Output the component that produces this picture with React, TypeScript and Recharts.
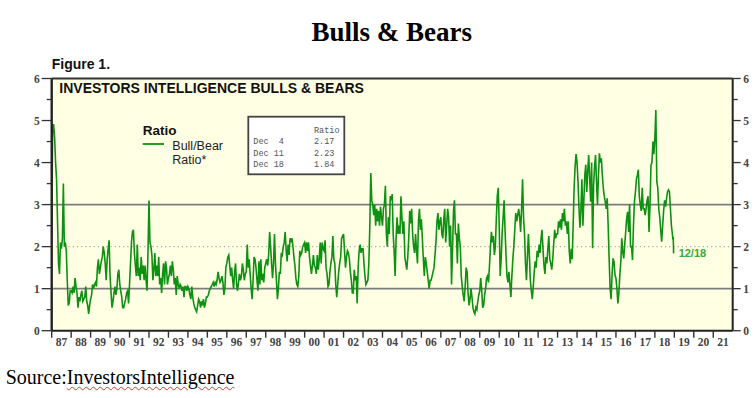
import React from 'react';
import { LineChart, Line, XAxis, YAxis, CartesianGrid, ReferenceLine, Legend } from 'recharts';

// ---- Data (Bull/Bear ratio, ~20 readings per year) ----
const ratio1987 = [2.3, 4.9, 4.9, 4.6, 4.0, 3.6, 2.6, 1.6, 1.35, 2.1, 1.95, 2.2, 3.5, 2.0, 2.1, 1.9, 1.2, 0.6, 0.65, 0.95];
const ratio1988 = [0.95, 0.9, 1.05, 0.9, 1.25, 1.05, 0.9, 0.55, 0.8, 0.7, 0.85, 0.95, 0.7, 0.75, 0.8, 1.05, 0.7, 0.6, 0.4, 0.6];
const ratio1989 = [0.75, 0.85, 1.1, 1.0, 1.1, 1.15, 1.05, 1.5, 1.7, 1.35, 1.5, 1.65, 1.75, 2.0, 1.85, 1.6, 1.2, 1.7, 1.95, 2.15];
const ratio1990 = [1.3, 0.9, 0.55, 0.7, 0.9, 1.05, 0.85, 1.0, 1.35, 1.45, 1.1, 0.95, 0.8, 0.55, 0.55, 0.65, 0.75, 0.9, 0.95, 0.65];
const ratio1991 = [1.1, 1.6, 2.1, 2.35, 2.4, 1.85, 1.55, 1.3, 2.05, 1.3, 1.5, 1.2, 1.75, 1.35, 1.55, 1.2, 1.55, 1.2, 0.95, 1.9];
const ratio1992 = [3.1, 2.1, 2.0, 1.8, 1.2, 1.45, 1.85, 1.3, 1.55, 1.3, 1.75, 1.1, 1.25, 0.9, 1.35, 1.6, 1.1, 1.65, 1.5, 1.1];
const ratio1993 = [1.25, 1.35, 1.55, 1.3, 1.65, 1.45, 1.1, 1.25, 0.85, 1.3, 1.1, 1.0, 1.1, 1.05, 0.95, 1.05, 0.8, 1.05, 1.05, 0.95];
const ratio1994 = [1.05, 1.0, 0.85, 0.75, 1.05, 0.8, 0.65, 0.55, 0.5, 0.45, 0.6, 0.75, 0.7, 0.55, 0.7, 0.6, 0.75, 0.55, 0.65, 0.8];
const ratio1995 = [0.8, 0.85, 0.95, 1.0, 1.05, 1.1, 1.15, 1.05, 1.15, 1.1, 1.2, 1.4, 1.25, 1.15, 1.2, 1.3, 1.15, 0.85, 1.0, 1.5];
const ratio1996 = [1.6, 1.75, 1.8, 1.55, 1.3, 1.5, 1.2, 1.0, 1.4, 1.6, 1.1, 0.95, 1.15, 1.35, 1.2, 1.3, 1.6, 1.45, 1.2, 1.35];
const ratio1997 = [1.4, 2.05, 1.5, 1.7, 1.35, 1.0, 0.75, 1.2, 1.75, 1.7, 1.5, 1.2, 0.95, 1.65, 1.1, 1.7, 1.2, 1.35, 1.15, 1.5];
const ratio1998 = [1.6, 1.7, 1.55, 1.8, 2.35, 2.0, 1.6, 1.25, 1.6, 2.3, 1.6, 1.2, 0.75, 1.0, 1.4, 1.35, 1.85, 1.8, 2.0, 2.1];
const ratio1999 = [2.35, 1.9, 1.65, 2.05, 1.8, 2.2, 2.1, 2.2, 2.0, 1.75, 1.55, 1.25, 1.1, 1.05, 1.3, 1.9, 1.8, 1.85, 2.0, 2.05];
const ratio2000 = [2.1, 1.85, 2.1, 1.9, 2.1, 1.75, 1.55, 1.35, 1.55, 1.8, 1.55, 1.5, 1.35, 1.8, 1.45, 1.7, 2.1, 1.6, 2.1, 1.95];
const ratio2001 = [1.9, 2.15, 1.5, 1.35, 1.05, 1.1, 1.4, 1.6, 1.75, 2.25, 1.7, 1.6, 1.1, 0.8, 1.1, 1.4, 1.6, 1.75, 2.2, 2.25];
const ratio2002 = [2.3, 1.9, 1.5, 1.75, 1.9, 1.85, 1.7, 1.4, 1.2, 0.9, 0.9, 1.45, 1.2, 1.3, 0.65, 1.5, 1.9, 2.05, 1.85, 1.95];
const ratio2003 = [1.95, 1.6, 1.3, 1.1, 1.15, 1.2, 1.6, 2.5, 3.75, 3.1, 3.0, 2.75, 3.0, 2.5, 2.9, 2.6, 2.85, 2.5, 2.95, 2.7];
const ratio2004 = [2.5, 2.9, 3.0, 3.45, 2.3, 2.0, 2.7, 2.3, 3.2, 3.1, 3.25, 2.3, 1.9, 1.3, 2.2, 2.7, 2.3, 2.5, 2.3, 3.2];
const ratio2005 = [2.7, 2.3, 2.6, 1.75, 1.6, 1.45, 1.75, 2.2, 2.85, 2.55, 2.9, 2.3, 2.0, 1.85, 2.3, 1.9, 1.6, 2.6, 2.9, 2.4];
const ratio2006 = [2.65, 2.2, 1.7, 1.3, 1.75, 1.6, 1.4, 1.2, 1.0, 1.2, 1.2, 1.3, 1.4, 1.5, 1.8, 2.1, 2.6, 2.8, 2.4, 2.6];
const ratio2007 = [2.7, 2.3, 2.2, 2.65, 2.9, 2.1, 2.5, 2.9, 2.7, 2.0, 2.5, 1.1, 1.9, 2.85, 3.1, 2.3, 2.3, 1.6, 2.55, 2.2];
const ratio2008 = [2.0, 1.3, 1.05, 0.85, 0.7, 1.05, 1.5, 1.4, 0.9, 0.6, 0.75, 1.0, 0.8, 0.55, 0.45, 0.4, 0.55, 0.5, 0.7, 0.85];
const ratio2009 = [0.95, 1.25, 0.95, 0.55, 0.6, 0.85, 1.0, 1.25, 1.3, 1.15, 1.55, 2.0, 2.35, 2.1, 2.25, 1.8, 2.0, 2.65, 3.2, 3.4];
const ratio2010 = [2.5, 1.3, 1.7, 2.3, 2.7, 3.1, 2.4, 1.8, 1.3, 1.15, 1.4, 1.1, 0.8, 1.3, 1.7, 2.0, 2.4, 2.8, 2.6, 2.75];
const ratio2011 = [2.9, 2.7, 2.35, 2.9, 3.6, 2.7, 2.3, 1.6, 1.2, 1.75, 2.3, 1.8, 1.2, 0.95, 0.75, 1.05, 1.4, 1.65, 1.5, 1.9];
const ratio2012 = [1.75, 2.05, 1.85, 2.2, 2.4, 1.95, 1.55, 1.35, 1.75, 1.6, 1.95, 2.25, 1.7, 1.6, 1.45, 1.7, 2.05, 2.4, 2.2, 2.3];
const ratio2013 = [2.3, 2.6, 2.45, 2.65, 2.4, 2.8, 2.6, 2.9, 2.5, 2.6, 2.3, 2.6, 1.9, 1.6, 1.95, 1.7, 2.5, 3.4, 3.9, 4.2];
const ratio2014 = [4.0, 3.55, 2.9, 2.45, 2.9, 3.6, 2.5, 3.1, 3.7, 3.95, 3.3, 3.8, 4.18, 3.6, 3.07, 4.0, 1.96, 3.45, 3.9, 4.18];
const ratio2015 = [3.55, 3.0, 3.7, 4.22, 4.0, 4.1, 3.7, 3.39, 3.2, 3.07, 2.9, 3.15, 2.5, 1.7, 1.0, 0.75, 1.33, 1.72, 1.64, 1.33];
const ratio2016 = [1.25, 1.0, 0.65, 0.9, 1.33, 1.64, 2.2, 1.87, 1.72, 2.04, 2.35, 2.67, 2.83, 2.35, 3.0, 2.0, 2.0, 1.68, 2.5, 3.07];
const ratio2017 = [3.3, 3.6, 3.7, 3.83, 3.2, 3.0, 2.85, 3.4, 2.9, 2.9, 2.75, 2.9, 3.1, 3.2, 2.35, 3.0, 3.94, 4.0, 4.5, 4.2];
const ratio2018 = [4.6, 5.25, 3.55, 3.4, 2.9, 2.7, 2.4, 2.12, 2.5, 2.85, 3.1, 2.95, 3.15, 3.3, 3.35, 3.3, 2.9, 2.5, 2.3];

// Latest readings (table box)
const tableLabels = ['Dec  4', 'Dec 11', 'Dec 18'];
const tableDates = [2018.925, 2018.944, 2018.964];
const tableRatios = [2.17, 2.23, 1.84];
const lastLabel = '12/18';

const yearArrays: Array<[number, number[]]> = [
  [1987, ratio1987], [1988, ratio1988], [1989, ratio1989], [1990, ratio1990], [1991, ratio1991],
  [1992, ratio1992], [1993, ratio1993], [1994, ratio1994], [1995, ratio1995], [1996, ratio1996],
  [1997, ratio1997], [1998, ratio1998], [1999, ratio1999], [2000, ratio2000], [2001, ratio2001],
  [2002, ratio2002], [2003, ratio2003], [2004, ratio2004], [2005, ratio2005], [2006, ratio2006],
  [2007, ratio2007], [2008, ratio2008], [2009, ratio2009], [2010, ratio2010], [2011, ratio2011],
  [2012, ratio2012], [2013, ratio2013], [2014, ratio2014], [2015, ratio2015], [2016, ratio2016],
  [2017, ratio2017], [2018, ratio2018],
];

const yearTicks = [1987, 1988, 1989, 1990, 1991, 1992, 1993, 1994, 1995, 1996, 1997, 1998, 1999, 2000, 2001, 2002, 2003, 2004, 2005, 2006, 2007, 2008, 2009, 2010, 2011, 2012, 2013, 2014, 2015, 2016, 2017, 2018, 2019, 2020, 2021];
const yTicks = [0, 0.5, 1, 1.5, 2, 2.5, 3, 3.5, 4, 4.5, 5, 5.5, 6];

const data = [
  ...yearArrays.flatMap(([yr, vals]) => vals.map((v, i) => ({ t: yr + i / 20, ratio: v }))),
  ...tableDates.map((t, i) => ({ t, ratio: tableRatios[i] })),
];
// year boundaries get a tick mark, mid-years get the two-digit label
const xTicks = yearTicks.flatMap((y) => [y, y + 0.5]);

const SERIES = '#0e9012';
const AXIS_DARK = '#222';
const axisFont: React.CSSProperties = { fontFamily: 'Liberation Serif', fontSize: 11.5, fontWeight: 'bold', fill: '#444' };

const LeftTick = (props: any) => {
  const { x, y, payload } = props;
  const v = payload.value;
  const major = Number.isInteger(v);
  return (
    <g>
      <line x1={x - (major ? 10 : 5)} x2={x} y1={y} y2={y} stroke="#333" strokeWidth={1.3} />
      {major && (
        <text x={x - 12} y={y + 4} textAnchor="end" style={axisFont}>{v}</text>
      )}
    </g>
  );
};

const RightTick = (props: any) => {
  const { x, y, payload } = props;
  const v = payload.value;
  const major = Number.isInteger(v);
  return (
    <g>
      <line x1={x} x2={x + (major ? 8 : 5)} y1={y} y2={y} stroke="#333" strokeWidth={1.3} />
      {major && (
        <text x={x + 10.5} y={y + 4} textAnchor="start" style={axisFont}>{v}</text>
      )}
    </g>
  );
};

const XTick = (props: any) => {
  const { x, y, payload } = props;
  const v = payload.value as number;
  if (Number.isInteger(v)) {
    return <line x1={x} x2={x} y1={y} y2={y + 7} stroke="#333" strokeWidth={1.4} />;
  }
  return (
    <text x={x} y={y + 15} textAnchor="middle" style={axisFont}>
      {String(Math.floor(v) % 100).padStart(2, '0')}
    </text>
  );
};

const renderLegend = (props: any) => {
  const color = props?.payload?.[0]?.color || SERIES;
  return (
    <svg width={110} height={52} style={{ display: 'block' }}>
      <text x={2.7} y={15} style={{ fontFamily: 'Liberation Sans', fontSize: 13.5, fontWeight: 'bold', fill: '#111' }}>Ratio</text>
      <line x1={2.7} x2={24} y1={24} y2={24} stroke={color} strokeWidth={1.8} />
      <text x={32.3} y={29.5} style={{ fontFamily: 'Liberation Sans', fontSize: 12.5, fill: '#222' }}>Bull/Bear</text>
      <text x={32.3} y={43.5} style={{ fontFamily: 'Liberation Sans', fontSize: 12.5, fill: '#222' }}>Ratio*</text>
    </svg>
  );
};

const lastIndex = data.length - 1;
const renderLastLabel = (props: any) => {
  const { x, y, index } = props;
  if (index !== lastIndex) return null;
  return (
    <text x={x + 5} y={y + 4} style={{ fontFamily: 'Liberation Sans', fontSize: 11, fontWeight: 'bold', fill: '#3aa83a' }}>
      {lastLabel}
    </text>
  );
};

export default function App() {
  return (
    <div style={{ position: 'absolute', left: 0, top: 0, width: 754, height: 398, background: '#fff', overflow: 'hidden' }}>
      <div style={{ position: 'absolute', left: 0, top: 0 }}>
        <LineChart width={754} height={398} data={data} margin={{ top: 78.5, right: 0, bottom: 0, left: 0 }}>
          <CartesianGrid xAxisId="a" yAxisId="left" horizontal={false} vertical={false} fill="#FFFFE4" stroke="none" />
          <XAxis
            xAxisId="a"
            dataKey="t"
            type="number"
            domain={[1987, 2022]}
            ticks={xTicks}
            interval={0}
            tick={<XTick />}
            tickSize={0}
            tickMargin={0}
            tickLine={false}
            axisLine={{ stroke: AXIS_DARK, strokeWidth: 2 }}
            height={67.3}
            allowDataOverflow
          />
          <YAxis
            yAxisId="left"
            orientation="left"
            domain={[0, 6]}
            ticks={yTicks}
            interval={0}
            width={51.7}
            tickSize={0}
            tickMargin={0}
            tickLine={false}
            axisLine={{ stroke: AXIS_DARK, strokeWidth: 2.4 }}
            tick={<LeftTick />}
            allowDataOverflow
          />
          <YAxis
            yAxisId="right"
            orientation="right"
            domain={[0, 6]}
            ticks={yTicks}
            interval={0}
            width={21.3}
            tickSize={0}
            tickMargin={0}
            tickLine={false}
            axisLine={{ stroke: AXIS_DARK, strokeWidth: 2 }}
            tick={<RightTick />}
            allowDataOverflow
          />
          <ReferenceLine xAxisId="a" yAxisId="left" y={1} stroke="#7c7c7c" strokeWidth={1.6} />
          <ReferenceLine xAxisId="a" yAxisId="left" y={3} stroke="#7c7c7c" strokeWidth={1.6} />
          <ReferenceLine xAxisId="a" yAxisId="left" y={2} stroke="#a8a8a8" strokeWidth={1.2} strokeDasharray="1.2 3" />
          <ReferenceLine xAxisId="a" yAxisId="left" y={6} stroke="#333" strokeWidth={2.2} />
          <Legend
            layout="horizontal"
            verticalAlign="middle"
            align="center"
            content={renderLegend}
            wrapperStyle={{ position: 'absolute', left: 140, top: 120, bottom: 'auto', right: 'auto', width: 110, height: 52, margin: 0 }}
          />
          <Line
            xAxisId="a"
            yAxisId="left"
            type="linear"
            dataKey="ratio"
            name="Bull/Bear Ratio*"
            stroke={SERIES}
            strokeWidth={1.6}
            dot={false}
            activeDot={false}
            isAnimationActive={false}
            label={renderLastLabel}
          />
        </LineChart>
      </div>
      <svg width={754} height={398} style={{ position: 'absolute', left: 0, top: 0, pointerEvents: 'none' }}>
        <text x={391.7} y={41} textAnchor="middle" style={{ fontFamily: 'Liberation Serif', fontSize: 27, fontWeight: 'bold', fill: '#000' }}>
          Bulls &amp; Bears
        </text>
        <text x={51.7} y={69} style={{ fontFamily: 'Liberation Sans', fontSize: 14, fontWeight: 'bold', fill: '#111' }}>
          Figure 1.
        </text>
        <text x={59.3} y={93.3} style={{ fontFamily: 'Liberation Sans', fontSize: 14, fontWeight: 'bold', fill: '#111' }}>
          INVESTORS INTELLIGENCE BULLS &amp; BEARS
        </text>
        <rect x={248.3} y={116.7} width={96} height={57.6} fill="#fff" stroke="#444" strokeWidth={1.8} />
        <text x={314} y={133} style={{ fontFamily: 'Liberation Mono', fontSize: 8.5, fill: '#555' }}>Ratio</text>
        {tableLabels.map((lab, i) => (
          <g key={lab}>
            <text x={253.3} y={144.3 + i * 11.4} style={{ fontFamily: 'Liberation Mono', fontSize: 8.5, fill: '#555', whiteSpace: 'pre' }}>{lab}</text>
            <text x={314} y={144.3 + i * 11.4} style={{ fontFamily: 'Liberation Mono', fontSize: 8.5, fill: '#555' }}>{tableRatios[i].toFixed(2)}</text>
          </g>
        ))}
      </svg>
      <div
        style={{
          position: 'absolute',
          left: 5.7,
          top: 366.8,
          fontFamily: 'Liberation Serif',
          fontSize: 20,
          lineHeight: '20px',
          color: '#000',
          whiteSpace: 'nowrap',
        }}
      >
        Source:
        <span style={{ textDecoration: 'underline wavy #e03030', textDecorationThickness: '1px', textUnderlineOffset: '2px' }}>
          InvestorsIntelligence
        </span>
      </div>
    </div>
  );
}
